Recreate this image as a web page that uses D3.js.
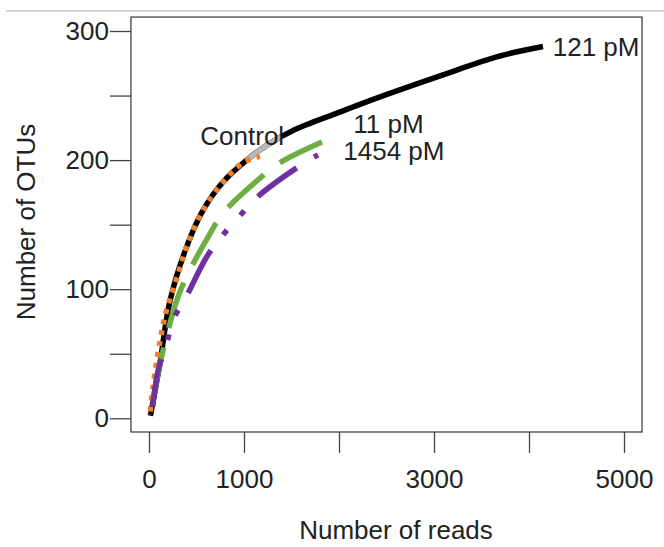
<!DOCTYPE html>
<html>
<head>
<meta charset="utf-8">
<script src="https://cdn.jsdelivr.net/npm/d3@7"></script>
<style>
  body { margin: 0; background: #fff; }
  svg text { font-family: "Liberation Sans", Arial, sans-serif; fill: #222; }
</style>
</head>
<body>
<svg id="chart" width="664" height="547"></svg>
<script>

// rarefaction curves (reads, OTUs)
var ctrlReads = [10, 42, 116, 186, 300, 397, 568, 779, 989, 1168];
var ctrlOtus  = [3, 24, 60, 84, 110, 133, 161, 183, 198, 203];

var pm121Reads = [15, 60, 116, 221, 397, 568, 779, 1028, 1250, 1516, 2000, 2432, 3134, 3660, 4147];
var pm121Otus  = [2, 20, 43, 91, 133, 161, 183, 200, 212, 223, 237, 249, 267, 280, 288];

var pm11Reads = [10, 150, 295, 397, 642, 779, 1168, 1379, 1821];
var pm11Otus  = [3, 53, 92, 110, 143, 159, 186, 198, 214];

var pm1454Reads = [28, 95, 186, 253, 397, 607, 779, 958, 1134, 1555, 1779];
var pm1454Otus  = [2, 37, 58, 76, 95, 125, 142, 157, 171, 194, 204];

// part of the 121 pM curve that shows up grey
var greyRange = [1028, 1450];

var xTicks = [0, 1000, 2000, 3000, 4000, 5000];
var xTickLabels = ['0', '1000', '', '3000', '', '5000'];
var yTicks = [0, 50, 100, 150, 200, 250, 300];
var yTickLabels = ['0', '', '100', '', '200', '', '300'];

var labels = [
    { text: 'Control', reads: 540, otus: 212 },
    { text: '121 pM', reads: 4250, otus: 281 },
    { text: '11 pM', reads: 2150, otus: 221 },
    { text: '1454 pM', reads: 2045, otus: 200 }
];

function zip(xs, ys) {
    return xs.map(function(d, i) { return { reads: d, otus: ys[i] }; });
}

var svg = d3.select('#chart');

var x = d3.scaleLinear().domain([0, 5000]).range([149, 624]);
var y = d3.scaleLinear().domain([0, 300]).range([418.3, 31]);

// thin grey rule at the very top
svg.append('line')
    .attr('x1', 6).attr('x2', 664)
    .attr('y1', 11).attr('y2', 11)
    .attr('stroke', '#c8c8c8')
    .attr('stroke-width', 1.5);

// plot box
svg.append('rect')
    .attr('x', x(-190)).attr('y', y(310.8))
    .attr('width', x(5190) - x(-190))
    .attr('height', y(-10.6) - y(310.8))
    .attr('fill', 'none')
    .attr('stroke', '#444')
    .attr('stroke-width', 1.3);

// axes: ticks only, no domain line
var xAxis = svg.append('g')
    .attr('transform', 'translate(0,' + y(-10.6) + ')')
    .call(d3.axisBottom(x).tickValues(xTicks).tickSize(21).tickPadding(8)
        .tickFormat(function(d, i) { return xTickLabels[i]; }));

var yAxis = svg.append('g')
    .attr('transform', 'translate(' + x(-190) + ',0)')
    .call(d3.axisLeft(y).tickValues(yTicks).tickSize(21).tickPadding(1)
        .tickFormat(function(d, i) { return yTickLabels[i]; }));

[xAxis, yAxis].forEach(function(ax) {
    ax.select('.domain').remove();
    ax.selectAll('.tick line').attr('stroke', '#444').attr('stroke-width', 1.3);
    ax.selectAll('.tick text')
        .attr('fill', '#222')
        .style('font-size', '26px')
        .style('font-family', '"Liberation Sans", Arial, sans-serif');
});
xAxis.selectAll('.tick text').attr('dy', '1.05em');

var line = d3.line()
    .x(function(d) { return x(d.reads); })
    .y(function(d) { return y(d.otus); })
    .curve(d3.curveCatmullRom.alpha(0.5));

// endAt: where in the dash pattern the curve should finish
var series = [
    { data: zip(ctrlReads, ctrlOtus), color: '#f0802c', dash: [5, 6], endAt: 4 },
    { data: zip(pm11Reads, pm11Otus), color: '#6fae44', dash: [48, 20], endAt: 47 },
    { data: zip(pm1454Reads, pm1454Otus), color: '#7031a0', dash: [48, 20, 6, 20, 6, 20], endAt: 73 }
];

// black curve first, then its grey stretch, then the others on top
var black = zip(pm121Reads, pm121Otus);
svg.append('path')
    .datum(black)
    .attr('d', line)
    .attr('fill', 'none')
    .attr('stroke', '#000')
    .attr('stroke-width', 5.5);

svg.append('path')
    .datum(black.filter(function(d) {
        return d.reads >= greyRange[0] && d.reads <= 1516;
    }))
    .attr('d', line)
    .attr('fill', 'none')
    .attr('stroke', '#b8b8b8')
    .attr('stroke-width', 5.5)
    .attr('stroke-dasharray', (x(greyRange[1]) - x(greyRange[0])) * 1.05 + ' 200');

series.forEach(function(s) {
    var p = svg.append('path')
        .datum(s.data)
        .attr('d', line)
        .attr('fill', 'none')
        .attr('stroke', s.color)
        .attr('stroke-width', 5.5)
        .attr('stroke-dasharray', s.dash.join(' '));
    var len = p.node().getTotalLength();
    var period = d3.sum(s.dash);
    p.attr('stroke-dashoffset', s.endAt - (len % period));
});

svg.selectAll('.curve-label')
    .data(labels)
    .enter().append('text')
        .attr('class', 'curve-label')
        .attr('x', function(d) { return x(d.reads); })
        .attr('y', function(d) { return y(d.otus); })
        .style('font-size', '26px')
        .text(function(d) { return d.text; });

// axis titles
svg.append('text')
    .attr('x', 396).attr('y', 539)
    .attr('text-anchor', 'middle')
    .style('font-size', '26px')
    .text('Number of reads');

svg.append('text')
    .attr('transform', 'translate(35,222) rotate(-90)')
    .attr('text-anchor', 'middle')
    .style('font-size', '26px')
    .text('Number of OTUs');

</script>
</body>
</html>
